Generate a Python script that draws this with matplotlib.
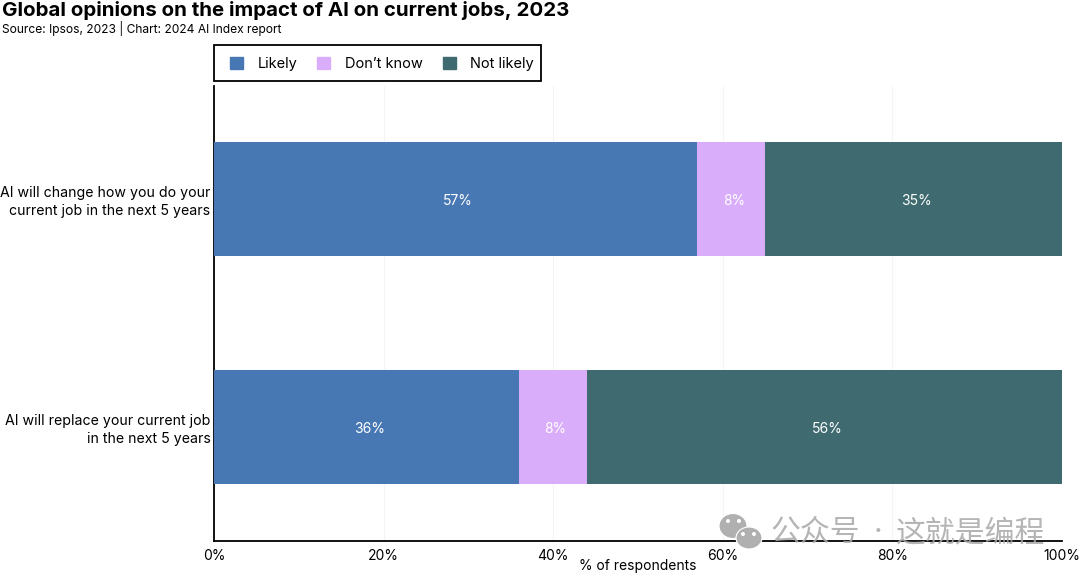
import matplotlib
matplotlib.use("Agg")
import matplotlib.pyplot as plt
from matplotlib.patches import Patch, Ellipse, Rectangle

plt.rcParams['font.family'] = ['Inter', 'Noto Sans CJK SC', 'DejaVu Sans']

# values
categories = ["AI will change how you do your\ncurrent job in the next 5 years",
              "AI will replace your current job\nin the next 5 years"]
series_names = ["Likely", "Don’t know", "Not likely"]
likely = [57, 36]
dont_know = [8, 8]
not_likely = [35, 56]
colors = ["#4878B4", "#DAADFB", "#3F6B70"]
x_ticks = [0, 20, 40, 60, 80, 100]

W, H = 1080, 574
fig = plt.figure(figsize=(W / 100, H / 100), dpi=100)
ax = fig.add_axes([214 / W, 1 - 541 / H, (1062 - 214) / W, (541 - 86) / H])

y_pos = [0, 1]
left = [0, 0]
for name, values, color in zip(series_names, [likely, dont_know, not_likely], colors):
    ax.barh(y_pos, values, left=left, height=0.5, color=color, zorder=3)
    for i, v in enumerate(values):
        ax.annotate(f"{v}%", (left[i] + v / 2, y_pos[i]), xytext=(1.7, -1.2),
                    textcoords="offset points", color="white", fontsize=10,
                    ha="center", va="center", zorder=4)
    left = [a + b for a, b in zip(left, values)]

ax.set_xlim(0, 100)
ax.set_ylim(1.5, -0.4956)
ax.set_xticks(x_ticks)
ax.set_xticklabels([f"{t}%" for t in x_ticks], fontsize=10)
ax.set_yticks(y_pos)
ax.set_yticklabels(categories, fontsize=10.2, linespacing=1.35)
ax.tick_params(axis="x", length=0, pad=5.5)
ax.tick_params(axis="y", length=0, pad=2.5)
ax.grid(axis="x", color="#f4f4f4", linewidth=0.8, zorder=0)
ax.set_axisbelow(True)
for side in ["top", "right"]:
    ax.spines[side].set_visible(False)
for side in ["left", "bottom"]:
    ax.spines[side].set_linewidth(1.3)
    ax.spines[side].set_color("black")

fig.text(638 / W, 1 - 566 / H, "% of respondents", fontsize=10, ha="center", va="center")
fig.text(2 / W, 1 - 10 / H, "Global opinions on the impact of AI on current jobs, 2023",
         fontsize=14.75, fontweight="bold", ha="left", va="center")
fig.text(2 / W, 1 - 28 / H, "Source: Ipsos, 2023 | Chart: 2024 AI Index report",
         fontsize=8.65, ha="left", va="center")

# legend box is not centred on its entries, so the frame is drawn separately
fig.add_artist(Rectangle((214 / W, 1 - 81 / H), (541 - 214) / W, (81 - 45) / H,
                         transform=fig.transFigure, facecolor="white",
                         edgecolor="black", linewidth=1.3))
handles = [Patch(color=c, label=n) for c, n in zip(colors, series_names)]
leg = fig.legend(handles=handles, loc="center", bbox_to_anchor=(382 / W, 1 - 64 / H),
                 ncol=3, frameon=False, fontsize=10.5,
                 handlelength=0.9, handleheight=0.9, handletextpad=1.0, columnspacing=1.37,
                 borderpad=0.75)

# watermark
wm_color = "#a8a8a8"
fig.text(860 / W, 1 - 533 / H, "公众号", fontsize=21.5, color=wm_color, alpha=0.85,
         fontweight="light", ha="right", va="center", zorder=10)
fig.text(878 / W, 1 - 533 / H, "·", fontsize=21.5, color=wm_color, alpha=0.85,
         ha="center", va="center", zorder=10)
fig.text(1045 / W, 1 - 533 / H, "这就是编程", fontsize=21.5, color=wm_color, alpha=0.85,
         fontweight="light", ha="right", va="center", zorder=10)
for cx, cy, rw, rh in [(733, 526, 28, 25), (749, 538, 26, 22)]:
    fig.add_artist(Ellipse((cx / W, 1 - cy / H), rw / W, rh / H, transform=fig.transFigure,
                           facecolor="#b0b0b0", edgecolor="white", linewidth=0.8, zorder=10))
for cx, cy in [(728, 521), (739, 521), (743, 534), (754, 534)]:
    fig.add_artist(Ellipse((cx / W, 1 - cy / H), 4 / W, 4 / H, transform=fig.transFigure,
                           facecolor="white", edgecolor="none", zorder=11))

fig.savefig("out.png", dpi=100)
